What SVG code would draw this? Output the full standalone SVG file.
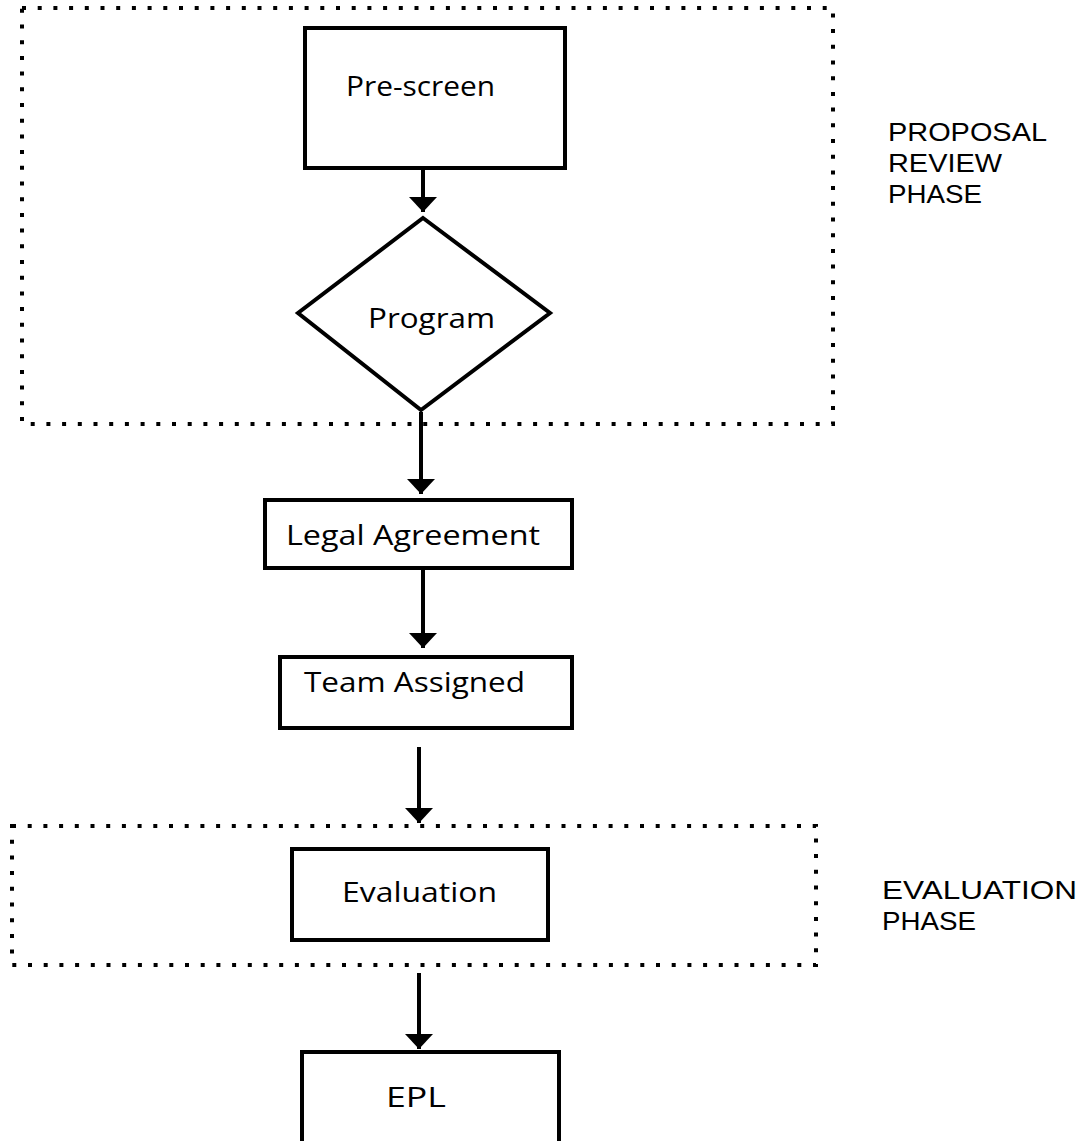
<svg xmlns="http://www.w3.org/2000/svg" width="1083" height="1141" viewBox="0 0 1083 1141">
<style>
.bg{fill:#fff}
.node{fill:#fff;stroke:#000;stroke-width:4}
.phase{fill:none;stroke:#000;stroke-width:4;stroke-dasharray:4 11.7}
.lbl{font-family:"Open Sans","Noto Sans","Liberation Sans",sans-serif;font-size:28px;fill:#000}
.plbl{font-family:"Liberation Sans",Arial,sans-serif;font-size:26px;fill:#000}
.conn{stroke:#000;stroke-width:4;fill:none;marker-end:url(#ah)}
</style>
<defs>
<marker id="ah" markerUnits="userSpaceOnUse" markerWidth="16" markerHeight="30" viewBox="0 0 16 30" refX="15" refY="15" orient="auto">
<path d="M0,1 L15,15 L0,29 Z" fill="#000"/>
</marker>
</defs>
<rect class="bg" x="0" y="0" width="1083" height="1141"/>
<g id="proposal-review-phase">
<rect class="phase" x="22" y="8" width="811" height="416"/>
<text class="plbl" x="888" y="141" textLength="159" lengthAdjust="spacingAndGlyphs">PROPOSAL</text>
<text class="plbl" x="888" y="172" textLength="114" lengthAdjust="spacingAndGlyphs">REVIEW</text>
<text class="plbl" x="888" y="203" textLength="94" lengthAdjust="spacingAndGlyphs">PHASE</text>
</g>
<g id="evaluation-phase">
<rect class="phase" x="12" y="826" width="804" height="139"/>
<text class="plbl" x="882" y="899" textLength="195" lengthAdjust="spacingAndGlyphs">EVALUATION</text>
<text class="plbl" x="882" y="930" textLength="94" lengthAdjust="spacingAndGlyphs">PHASE</text>
</g>
<g id="connectors">
<line class="conn" x1="423" y1="168" x2="423" y2="212"/>
<line class="conn" x1="421" y1="412" x2="421" y2="494"/>
<line class="conn" x1="423" y1="568" x2="423" y2="648"/>
<line class="conn" x1="419" y1="747" x2="419" y2="823"/>
<line class="conn" x1="419" y1="973" x2="419" y2="1049"/>
</g>
<g id="pre-screen">
<rect class="node" x="305" y="28" width="260" height="140"/>
<text class="lbl" x="346" y="96" textLength="149" lengthAdjust="spacingAndGlyphs">Pre-screen</text>
</g>
<g id="program">
<polygon class="node" points="423,218 550,313 421,410 298,313"/>
<text class="lbl" x="368" y="328" textLength="127" lengthAdjust="spacingAndGlyphs">Program</text>
</g>
<g id="legal-agreement">
<rect class="node" x="265" y="500" width="307" height="68"/>
<text class="lbl" x="286" y="545" textLength="254" lengthAdjust="spacingAndGlyphs">Legal Agreement</text>
</g>
<g id="team-assigned">
<rect class="node" x="280" y="657" width="292" height="71"/>
<text class="lbl" x="304" y="692" textLength="221" lengthAdjust="spacingAndGlyphs">Team Assigned</text>
</g>
<g id="evaluation">
<rect class="node" x="292" y="849" width="256" height="91"/>
<text class="lbl" x="342" y="902" textLength="155" lengthAdjust="spacingAndGlyphs">Evaluation</text>
</g>
<g id="epl">
<rect class="node" x="302" y="1052" width="257" height="100"/>
<text class="lbl" x="386" y="1107" textLength="60" lengthAdjust="spacingAndGlyphs">EPL</text>
</g>
</svg>
